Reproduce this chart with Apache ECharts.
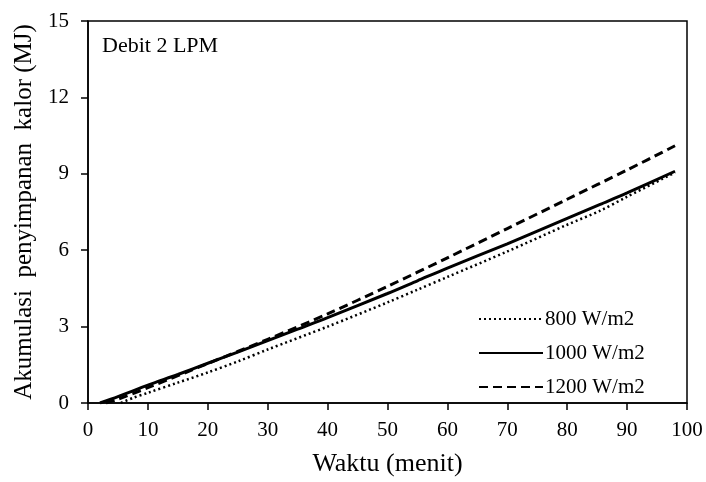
<!DOCTYPE html>
<html>
<head>
<meta charset="utf-8">
<script src="https://cdn.jsdelivr.net/npm/echarts@6/dist/echarts.min.js"></script>
<style>
  html, body { margin: 0; padding: 0; background: #fff; }
  #main { width: 706px; height: 482px; }
</style>
</head>
<body>
<div id="main"></div>
<script>
// waktu (menit) and accumulated heat (MJ)
const t800 = [5.5, 7.5, 10, 15, 20, 25, 30, 40, 50, 55, 60, 70, 80, 85.5, 90, 98];
const q800 = [0, 0.2, 0.4, 0.8, 1.2, 1.63, 2.1, 3.0, 3.95, 4.45, 4.95, 5.95, 7.0, 7.55, 8.1, 9.05];

const t1000 = [2, 5, 10, 15, 20, 25, 30, 35, 40, 50, 55, 60, 70, 80, 85.5, 90, 98];
const q1000 = [0, 0.25, 0.7, 1.12, 1.56, 2.0, 2.45, 2.9, 3.35, 4.3, 4.8, 5.3, 6.25, 7.25, 7.8, 8.25, 9.1];

const t1200 = [3, 5, 10, 20, 30, 40, 50, 60, 70, 80, 90, 98];
const q1200 = [0, 0.15, 0.6, 1.55, 2.5, 3.5, 4.58, 5.7, 6.85, 8.0, 9.15, 10.1];

const seriesNames = ['800 W/m2', '1000 W/m2', '1200 W/m2'];

const pairs = (xs, ys) => xs.map((x, i) => [x, ys[i]]);

const serif = 'Liberation Serif';
const chart = echarts.init(document.getElementById('main'));
chart.setOption({
    animation: false,
    backgroundColor: '#fff',
    textStyle: { fontFamily: serif, color: '#000' },
    grid: {
        left: 88, right: 19, top: 21, bottom: 77,
        show: true,
        borderColor: '#000',
        borderWidth: 1.5,
    },
    title: {
        text: 'Debit 2 LPM',
        left: 97,
        top: 30,
        textStyle: { fontFamily: serif, fontSize: 22, fontWeight: 'normal', color: '#000' },
    },
    legend: {
        data: seriesNames,
        orient: 'vertical',
        left: 473,
        top: 303,
        itemWidth: 64,
        itemHeight: 14,
        itemGap: 12,
        itemStyle: { opacity: 0 },
        textStyle: { fontFamily: serif, fontSize: 21, lineHeight: 22, color: '#000', padding: [0, 0, 0, -3] },
    },
    xAxis: {
        type: 'value',
        min: 0, max: 100, interval: 10,
        name: 'Waktu (menit)',
        nameLocation: 'middle',
        nameGap: 48,
        nameTextStyle: { fontFamily: serif, fontSize: 26, color: '#000' },
        axisLine: { lineStyle: { color: '#000', width: 1.5 } },
        axisTick: { show: true, length: 7, lineStyle: { color: '#000', width: 1.5 } },
        axisLabel: { fontFamily: serif, fontSize: 21, color: '#000', margin: 17 },
        splitLine: { show: false },
    },
    yAxis: {
        type: 'value',
        min: 0, max: 15, interval: 3,
        name: 'Akumulasi  penyimpanan  kalor (MJ)',
        nameLocation: 'middle',
        nameGap: 46,
        nameTextStyle: { fontFamily: serif, fontSize: 25, color: '#000' },
        axisLine: { show: true, lineStyle: { color: '#000', width: 1.5 } },
        axisTick: { show: true, length: 7, lineStyle: { color: '#000', width: 1.5 } },
        axisLabel: { fontFamily: serif, fontSize: 21, color: '#000', margin: 19 },
        splitLine: { show: false },
    },
    series: [
        {
            name: seriesNames[0],
            type: 'line',
            data: pairs(t800, q800),
            smooth: 0.3,
            symbol: 'none',
            lineStyle: { color: '#000', width: 2.5, type: [2, 3] },
            itemStyle: { color: '#000' },
        },
        {
            name: seriesNames[1],
            type: 'line',
            data: pairs(t1000, q1000),
            smooth: 0.3,
            symbol: 'none',
            lineStyle: { color: '#000', width: 3, type: 'solid' },
            itemStyle: { color: '#000' },
        },
        {
            name: seriesNames[2],
            type: 'line',
            data: pairs(t1200, q1200),
            smooth: 0.3,
            symbol: 'none',
            lineStyle: { color: '#000', width: 3, type: [9, 5] },
            itemStyle: { color: '#000' },
        },
    ],
});
</script>
</body>
</html>
